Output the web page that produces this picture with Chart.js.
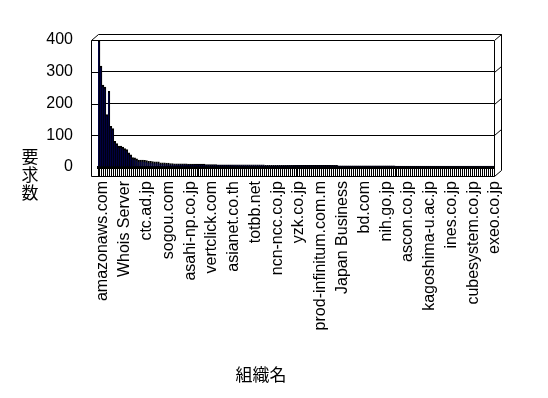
<!DOCTYPE html>
<html>
<head>
<meta charset="utf-8">
<script src="https://cdn.jsdelivr.net/npm/chart.js@4.4.1/dist/chart.umd.min.js"></script>
<style>
  html, body { margin: 0; padding: 0; background: #fff; }
  #wrap { width: 548px; height: 398px; }
</style>
</head>
<body>
<div id="wrap"><canvas id="chart" width="548" height="398"></canvas></div>
<script>
// organisation names that Excel printed under the axis (every 11th category)
const shownNames = [
    'amazonaws.com', 'Whois Server', 'ctc.ad.jp', 'sogou.com', 'asahi-np.co.jp',
    'vertclick.com', 'asianet.co.th', 'totbb.net', 'ncn-ncc.co.jp', 'yzk.co.jp',
    'prod-infinitum.com.m', 'Japan Business', 'bd.com', 'nih.go.jp', 'ascon.co.jp',
    'kagoshima-u.ac.jp', 'ines.co.jp', 'cubesystem.co.jp', 'exeo.co.jp'
];
const labelStep = 11;

// request counts (200 organisations, sorted roughly descending)
const requests = [
    398, 318, 258, 252, 165, 238, 128, 121, 81, 74,
    66, 66, 63, 58, 55, 45, 38, 30, 29, 26,
    22, 22, 22, 21, 20, 18, 18, 17, 16, 16,
    16, 13, 13, 13, 12, 12, 11, 11, 10, 10,
    10, 10, 10, 10, 10, 9, 9, 9, 9, 9,
    9, 9, 9, 9, 8, 8, 8, 8, 8, 8,
    7, 7, 7, 7, 7, 7, 7, 7, 7, 7,
    7, 7, 7, 7, 7, 7, 7, 7, 7, 7,
    7, 7, 7, 7, 5, 5, 5, 5, 5, 5,
    5, 5, 5, 5, 5, 5, 5, 5, 5, 5,
    5, 5, 5, 5, 5, 5, 5, 5, 5, 5,
    5, 5, 5, 5, 5, 5, 5, 5, 5, 5,
    5, 4, 4, 4, 4, 4, 4, 4, 4, 4,
    4, 4, 4, 4, 4, 4, 4, 4, 4, 4,
    4, 4, 4, 4, 4, 4, 4, 4, 4, 4,
    3, 3, 3, 3, 3, 3, 3, 3, 3, 3,
    3, 3, 3, 3, 3, 3, 3, 3, 3, 3,
    3, 3, 3, 3, 3, 3, 3, 3, 3, 3,
    3, 3, 3, 3, 3, 3, 3, 3, 3, 3,
    3, 3, 3, 3, 3, 3, 3, 3, 3, 3
];

const yTicks = [0, 100, 200, 300, 400];
const xTitle = '組織名';
const yTitle = '要求数';

const categories = requests.map((_, i) =>
    i % labelStep === 0 && shownNames[i / labelStep] ? shownNames[i / labelStep] : '');

// fake 3D box like the old Excel chart + the two axis titles
const excelFrame = {
    id: 'excelFrame',
    afterDraw(chart) {
        const { ctx, chartArea: a, scales } = chart;
        const dx = 7, dy = 6;
        const L = Math.round(a.left) + 0.5, R = Math.round(a.right) + 0.5;
        const T = Math.round(a.top) + 0.5, B = Math.round(a.bottom) + 9.5;
        ctx.save();
        ctx.strokeStyle = '#000';
        ctx.lineWidth = 1;
        ctx.beginPath();
        // front face
        ctx.moveTo(L - dx, T); ctx.lineTo(L - dx, B); ctx.lineTo(R, B); ctx.lineTo(R, T);
        // back top + right
        ctx.moveTo(L - dx, T); ctx.lineTo(L, T - dy); ctx.lineTo(R + dx, T - dy);
        ctx.lineTo(R + dx, B - dy); ctx.lineTo(R, B);
        // gridline ends
        yTicks.forEach(v => {
            if (v === 0) return;
            const y = Math.round(scales.y.getPixelForValue(v)) + 0.5;
            ctx.moveTo(L - dx, y); ctx.lineTo(L, y);
            ctx.moveTo(R, y); ctx.lineTo(R + dx, y - dy);
        });
        ctx.stroke();

        ctx.fillStyle = '#000';
        ctx.textAlign = 'center';
        ctx.textBaseline = 'middle';
        ctx.font = '17px "Noto Sans CJK JP"';
        ctx.fillText(xTitle, 261, 375);
        [...yTitle].forEach((ch, i) => ctx.fillText(ch, 30, 157 + i * 18));
        ctx.restore();
    }
};

new Chart(document.getElementById('chart'), {
    type: 'bar',
    data: {
        labels: categories,
        datasets: [{
            data: requests,
            backgroundColor: '#000040',
            borderColor: '#000000',
            borderWidth: { top: 2, right: 1, left: 0, bottom: 0 },
            borderSkipped: false,
            barPercentage: 1,
            categoryPercentage: 1
        }]
    },
    options: {
        responsive: false,
        animation: false,
        layout: { padding: { top: 40, right: 54, left: 0, bottom: 0 } },
        plugins: { legend: { display: false }, tooltip: { enabled: false } },
        scales: {
            x: {
                afterFit: s => { s.height = 231; },
                grid: { drawOnChartArea: false, color: '#000', tickLength: 9 },
                border: { color: '#000', width: 3 },
                ticks: {
                    autoSkip: false,
                    minRotation: 90,
                    maxRotation: 90,
                    padding: 5,
                    labelOffset: 4,
                    color: '#000',
                    font: { family: 'Liberation Sans', size: 16 }
                }
            },
            y: {
                min: 0,
                max: 400,
                afterFit: s => { s.width = 98; },
                grid: { color: '#000', drawTicks: false },
                border: { display: false },
                ticks: {
                    stepSize: 100,
                    padding: 25,
                    color: '#000',
                    font: { family: 'Liberation Sans', size: 16 }
                }
            }
        }
    },
    plugins: [excelFrame]
});
</script>
</body>
</html>
